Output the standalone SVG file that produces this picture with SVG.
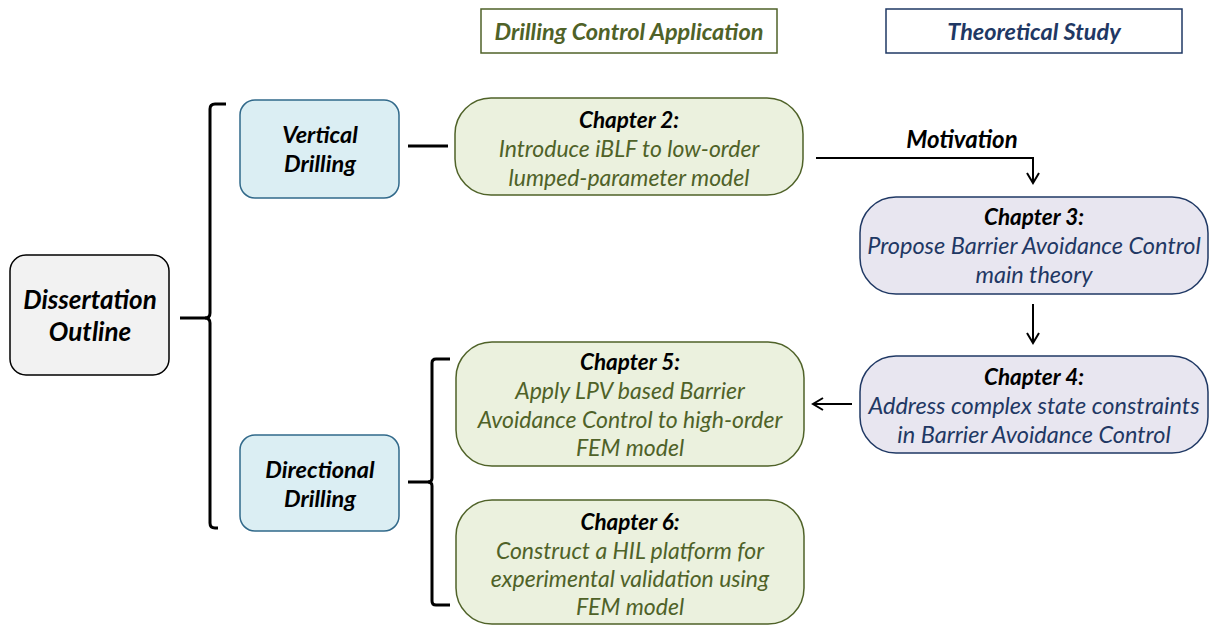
<svg xmlns="http://www.w3.org/2000/svg" width="1211" height="627" viewBox="0 0 1211 627">
<defs>
<marker id="arr" markerWidth="14" markerHeight="14" refX="12" refY="7" orient="auto" markerUnits="userSpaceOnUse">
<path d="M2,1 L12,7 L2,13" fill="none" stroke="#000" stroke-width="2"/>
</marker>
<style>
text{font-family:Lato,"Open Sans","Liberation Sans",sans-serif;font-style:italic;text-anchor:middle;dominant-baseline:central}
.t{font-weight:bold;font-size:22.5px;fill:#000}
.g{font-size:23px;fill:#4f6228}
.n{font-size:23.5px;fill:#1f3864}
.gbox{fill:#ebf1de;stroke:#4f6228;stroke-width:1.5}
.nbox{fill:#e8e6f0;stroke:#1f3864;stroke-width:1.5}
.bbox{fill:#dbeef3;stroke:#31698a;stroke-width:1.5}
.lbl{font-weight:bold;font-size:23.5px;fill:#000}
.br{fill:none;stroke:#000;stroke-width:3}
.ln{fill:none;stroke:#000;stroke-width:2}
</style>
</defs>
<g id="header-app">
<rect x="481" y="9" width="296" height="44" fill="#fff" stroke="#4f6228" stroke-width="1.5"/>
<text x="629" y="31" style="font-weight:bold;font-size:23.5px;fill:#4f6228">Drilling Control Application</text>
</g>
<g id="header-theory">
<rect x="886" y="9" width="296" height="44" fill="#fff" stroke="#1f3864" stroke-width="1.5"/>
<text x="1034" y="31" style="font-weight:bold;font-size:23.5px;fill:#1f3864">Theoretical Study</text>
</g>
<g id="outline">
<rect x="10" y="255" width="159" height="120" rx="16" fill="#f2f2f2" stroke="#000" stroke-width="1.5"/>
<text x="90" y="299" class="lbl" style="font-size:26px">Dissertation</text>
<text x="90" y="331" class="lbl" style="font-size:26px">Outline</text>
</g>
<g id="vertical">
<rect x="240" y="100" width="159" height="98" rx="15" class="bbox"/>
<text x="320" y="134" class="lbl">Vertical</text>
<text x="320" y="163" class="lbl">Drilling</text>
</g>
<g id="directional">
<rect x="240" y="435" width="159" height="96" rx="15" class="bbox"/>
<text x="320" y="469" class="lbl">Directional</text>
<text x="320" y="498" class="lbl">Drilling</text>
</g>
<g id="ch2">
<rect x="455" y="98" width="348" height="97" rx="36" class="gbox"/>
<text x="629" y="119" class="t">Chapter 2:</text>
<text x="629" y="148" class="g">Introduce iBLF to low-order</text>
<text x="629" y="177" class="g">lumped-parameter model</text>
</g>
<g id="ch3">
<rect x="860" y="197" width="348" height="97" rx="36" class="nbox"/>
<text x="1034" y="216" class="t">Chapter 3:</text>
<text x="1034" y="245" class="n">Propose Barrier Avoidance Control</text>
<text x="1034" y="274" class="n">main theory</text>
</g>
<g id="ch4">
<rect x="860" y="356" width="348" height="97" rx="36" class="nbox"/>
<text x="1034" y="376" class="t">Chapter 4:</text>
<text x="1034" y="405" class="n">Address complex state constraints</text>
<text x="1034" y="434" class="n">in Barrier Avoidance Control</text>
</g>
<g id="ch5">
<rect x="456" y="342" width="348" height="124" rx="36" class="gbox"/>
<text x="630" y="361" class="t">Chapter 5:</text>
<text x="630" y="390" class="g">Apply LPV based Barrier</text>
<text x="630" y="419" class="g">Avoidance Control to high-order</text>
<text x="630" y="447" class="g">FEM model</text>
</g>
<g id="ch6">
<rect x="456" y="500" width="348" height="124" rx="36" class="gbox"/>
<text x="630" y="521" class="t">Chapter 6:</text>
<text x="630" y="550" class="g">Construct a HIL platform for</text>
<text x="630" y="578" class="g">experimental validation using</text>
<text x="630" y="606" class="g">FEM model</text>
</g>
<g id="connectors">
<path class="br" d="M180,318 L205,318 Q210,318 210,313 L210,109 Q210,104 215,104 L226,104"/>
<path class="br" d="M210,323 L210,523 Q210,528 215,528 L218,528"/>
<path class="br" d="M205,318 Q210,318 210,323"/>
<path class="br" d="M408,146 L448,146"/>
<path class="br" d="M408,482 L428,482 Q432,482 432,478 L432,363 Q432,359 436,359 L450,359"/>
<path class="br" d="M428,482 Q432,482 432,486 L432,601 Q432,605 436,605 L450,605"/>
<path class="ln" d="M816,158 L1033,158 L1033,183" marker-end="url(#arr)"/>
<text x="962" y="138" class="lbl" style="font-size:24px">Motivation</text>
<path class="ln" d="M1033,304 L1033,343" marker-end="url(#arr)"/>
<path class="ln" d="M852,404 L813,404" marker-end="url(#arr)"/>
</g>
</svg>
